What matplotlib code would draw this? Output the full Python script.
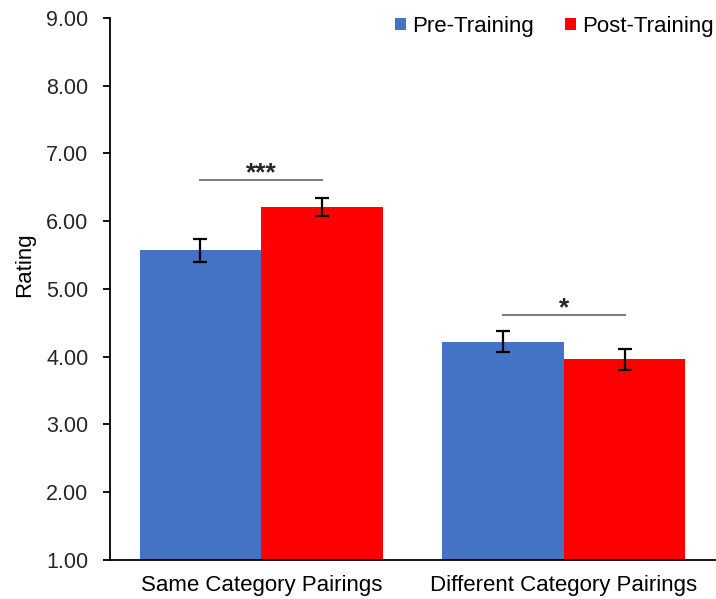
import matplotlib.pyplot as plt
import numpy as np

plt.rcParams.update({
    "font.family": ["Liberation Sans", "DejaVu Sans"],
    "font.size": 16,
})

categories = ["Same Category Pairings", "Different Category Pairings"]
pre_mean = [5.57, 4.22]
pre_err = [0.165, 0.157]
post_mean = [6.21, 3.96]
post_err = [0.135, 0.15]
sig_level = [6.61, 4.62]
sig_marks = ["***", "*"]

blue = "#4472C4"
red = "#FF0000"

fig = plt.figure(figsize=(7.16, 5.99), dpi=100)
ax = fig.add_axes([0.1536, 0.0651, 0.845, 0.9049])

x = np.arange(len(categories))
w = 0.402
err_kw = dict(ecolor="black", elinewidth=1.6, capsize=5, capthick=1.6)
ax.bar(x - w / 2, pre_mean, w, yerr=pre_err, color=blue, label="Pre-Training",
       error_kw=err_kw)
ax.bar(x + w / 2, post_mean, w, yerr=post_err, color=red, label="Post-Training",
       error_kw=err_kw)

# significance brackets between paired bars
for xi, lvl, mark in zip(x, sig_level, sig_marks):
    ax.plot([xi - w / 2, xi + w / 2], [lvl, lvl], color="#7f7f7f", lw=1.5)
    ax.text(xi, lvl - 0.01, mark, ha="center", va="baseline", fontsize=19,
            fontweight="bold", color="#262626")

ax.set_xlim(-0.5, 1.5)
ax.set_ylim(1, 9)
ax.set_yticks(np.arange(1, 10))
ax.set_yticklabels([f"{v:.2f}" for v in range(1, 10)])
ax.set_xticks(x)
ax.set_xticklabels(categories)
ax.tick_params(axis="x", length=0, pad=11)
ax.tick_params(axis="y", length=5, width=1.3, direction="out", pad=10.5,
               labelsize=15.5, labelcolor="#262626")
ax.set_ylabel("Rating")
ax.yaxis.set_label_coords(-0.123, 0.545)

for side in ["top", "right"]:
    ax.spines[side].set_visible(False)
ax.spines["left"].set_linewidth(1.3)
ax.spines["bottom"].set_linewidth(1.3)

ax.legend(loc="upper right", bbox_to_anchor=(1.031, 1.041), ncol=2,
          frameon=False, handlelength=0.5, handleheight=0.5,
          handletextpad=0.28, columnspacing=1.4, fontsize=16)

fig.savefig("out.png", dpi=100)
